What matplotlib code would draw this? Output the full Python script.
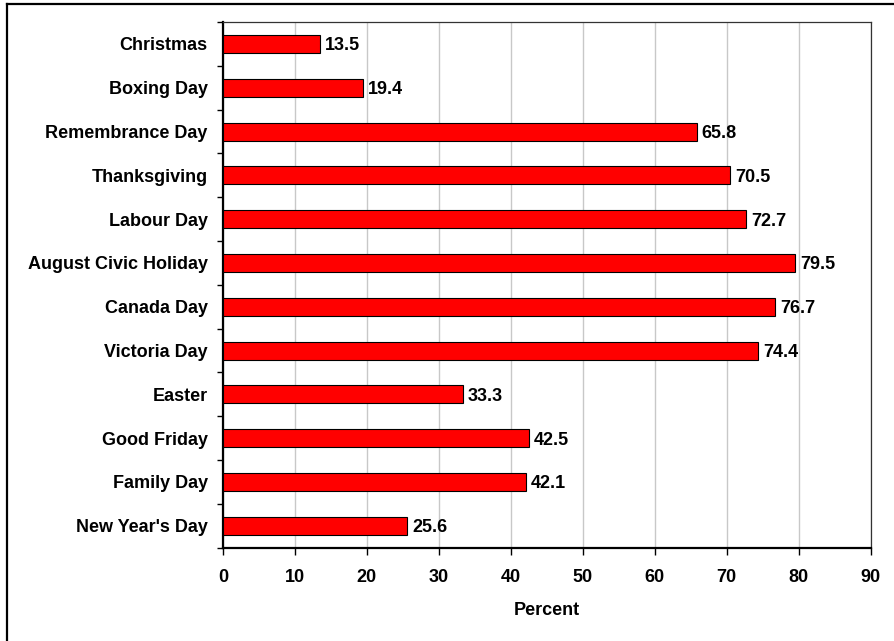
import matplotlib
matplotlib.use("Agg")
import matplotlib.pyplot as plt
from matplotlib.lines import Line2D

# Holidays listed bottom to top, with the percent for each
holidays = [
    "New Year's Day", "Family Day", "Good Friday", "Easter", "Victoria Day",
    "Canada Day", "August Civic Holiday", "Labour Day", "Thanksgiving",
    "Remembrance Day", "Boxing Day", "Christmas",
]
percent = [25.6, 42.1, 42.5, 33.3, 74.4, 76.7, 79.5, 72.7, 70.5, 65.8, 19.4, 13.5]
x_ticks = [0, 10, 20, 30, 40, 50, 60, 70, 80, 90]

plt.rcParams["font.family"] = ["Liberation Sans", "DejaVu Sans"]
plt.rcParams["font.weight"] = "bold"
FS = 13

W, H = 894, 641
fig = plt.figure(figsize=(W / 100, H / 100), dpi=100)
ax = fig.add_axes([223 / W, 1 - 547.7 / H, (870.7 - 223) / W, (547.7 - 22) / H])

pos = list(range(len(holidays)))
ax.barh(pos, percent, height=0.41, color="#ff0000", edgecolor="black",
        linewidth=0.8, zorder=3)

for y, v in zip(pos, percent):
    ax.annotate(f"{v}", xy=(v, y), xytext=(3.5, 0), textcoords="offset points",
                va="center_baseline", ha="left", fontsize=FS, fontweight="bold",
                zorder=4)

ax.set_xlim(0, 90)
ax.set_ylim(-0.5, len(holidays) - 0.5)
ax.set_xticks(x_ticks)
ax.set_xticklabels([str(t) for t in x_ticks], fontsize=FS, fontweight="bold")
ax.set_yticks(pos)
ax.set_yticklabels(holidays, fontsize=FS, fontweight="bold")
ax.set_yticks([p - 0.5 for p in pos] + [len(holidays) - 0.5], minor=True)

ax.tick_params(axis="y", which="major", length=0, pad=11)
ax.tick_params(axis="y", which="minor", length=4, width=1, color="black", direction="out")
ax.tick_params(axis="x", which="major", length=5, width=1, color="black",
               direction="out", pad=10)

ax.xaxis.grid(True, color="#c8c8c8", linewidth=1.0, zorder=0)
ax.set_axisbelow(True)

for side in ("left", "bottom"):
    ax.spines[side].set_linewidth(1.6)
    ax.spines[side].set_color("black")
for side in ("top", "right"):
    ax.spines[side].set_linewidth(0.9)
    ax.spines[side].set_color("#333333")

ax.set_xlabel("Percent", fontsize=FS, fontweight="bold", labelpad=12)

# Outer frame around the chart (top and left edges fall inside the canvas)
fig.add_artist(Line2D([7 / W, 7 / W], [0, 1 - 4 / H], transform=fig.transFigure,
                      color="black", linewidth=1.6))
fig.add_artist(Line2D([7 / W, 1], [1 - 4 / H, 1 - 4 / H], transform=fig.transFigure,
                      color="black", linewidth=1.6))

fig.savefig("out.png", dpi=100, facecolor="white")
